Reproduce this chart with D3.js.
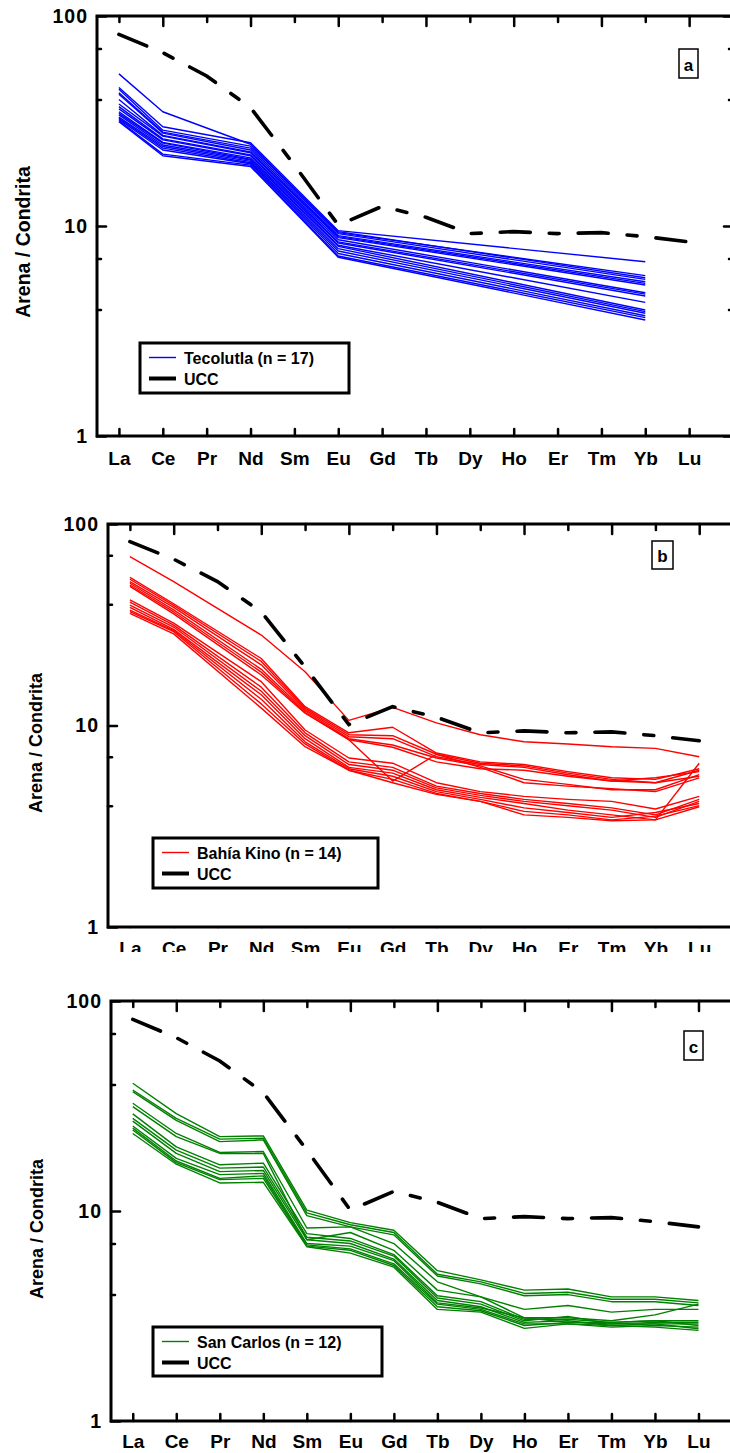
<!DOCTYPE html>
<html>
<head>
<meta charset="utf-8">
<script src="https://cdn.jsdelivr.net/npm/d3@7"></script>
<style>
  body { margin: 0; background: #fff; }
  svg { display: block; }
  text { font-family: "Liberation Sans", Arial, Helvetica, sans-serif; font-weight: bold; fill: #000; }
</style>
</head>
<body>
<svg id="fig" width="730" height="1453"></svg>
<script>
// Rare earth elements, in order along the x axis
const elements = ["La", "Ce", "Pr", "Nd", "Sm", "Eu", "Gd", "Tb", "Dy", "Ho", "Er", "Tm", "Yb", "Lu"];

// Upper continental crust, chondrite-normalised
const ucc = [81.7, 66.9, 51.8, 36.6, 19.5, 10.1, 12.4, 11.0, 9.2, 9.4, 9.2, 9.3, 8.9, 8.4];

// y axis ticks (log scale)
const yMajorTicks = [1, 10, 100];
const yMinorTicks = [4, 7, 40, 70];

// Tecolutla sands (n = 17): La, Ce, Nd, Eu and Yb measured
const tecolutla = [
  [53.0, 35.0, null, 24.5, null, 9.3, null, null, null, null, null, null, 5.80, null],
  [45.7, 29.7, null, 24.9, null, 9.5, null, null, null, null, null, null, 6.76, null],
  [44.8, 28.6, null, 24.0, null, 9.4, null, null, null, null, null, null, 5.67, null],
  [43.1, 28.0, null, 23.5, null, 9.2, null, null, null, null, null, null, 5.57, null],
  [42.4, 27.7, null, 23.0, null, 9.0, null, null, null, null, null, null, 5.43, null],
  [40.0, 27.0, null, 22.5, null, 8.9, null, null, null, null, null, null, 5.33, null],
  [38.1, 26.8, null, 22.3, null, 8.8, null, null, null, null, null, null, 5.24, null],
  [37.0, 26.0, null, 21.8, null, 8.6, null, null, null, null, null, null, 4.81, null],
  [36.1, 25.7, null, 21.6, null, 8.4, null, null, null, null, null, null, 4.74, null],
  [35.0, 25.0, null, 21.1, null, 8.3, null, null, null, null, null, null, 4.64, null],
  [34.4, 24.8, null, 20.8, null, 8.1, null, null, null, null, null, null, 4.33, null],
  [33.8, 24.3, null, 20.6, null, 8.0, null, null, null, null, null, null, 3.98, null],
  [33.0, 23.9, null, 20.3, null, 7.8, null, null, null, null, null, null, 3.91, null],
  [32.6, 23.5, null, 20.0, null, 7.6, null, null, null, null, null, null, 3.84, null],
  [32.2, 23.0, null, 19.8, null, 7.4, null, null, null, null, null, null, 3.74, null],
  [31.8, 22.0, null, 19.5, null, 7.2, null, null, null, null, null, null, 3.66, null],
  [31.4, 21.6, null, 19.2, null, 7.1, null, null, null, null, null, null, 3.57, null]
];

// Bahía Kino sands (n = 14): Pr not measured
const bahiaKino = [
  [68.8, 51.8, null, 28.1, 18.5, 10.6, 12.3, 10.3, 9.0, 8.3, 8.1, 7.85, 7.7, 7.0],
  [54.4, 40.2, null, 21.5, 12.4, 9.2, 9.8, 7.3, 6.6, 6.4, 5.9, 5.5, 5.4, 6.1],
  [53.2, 39.5, null, 20.8, 12.2, 9.0, 8.9, 7.2, 6.5, 6.3, 5.8, 5.4, 5.2, 6.0],
  [51.8, 38.6, null, 20.0, 12.0, 8.8, 8.6, 7.0, 6.4, 6.2, 5.7, 5.3, 5.5, 5.9],
  [50.8, 37.5, null, 19.0, 11.8, 8.6, 8.0, 6.9, 6.3, 5.4, 5.1, 4.8, 4.8, 5.7],
  [49.8, 36.6, null, 18.4, 11.6, 8.5, 5.3, 7.2, 6.2, 5.2, 5.0, 4.85, 4.7, 5.5],
  [49.0, 35.8, null, 17.8, 11.5, 8.5, 7.8, 6.6, 6.1, 6.0, 5.6, 5.3, 5.2, 5.6],
  [42.0, 32.2, null, 16.5, 9.5, 6.9, 6.5, 5.2, 4.7, 4.45, 4.3, 4.2, 3.85, 4.45],
  [40.9, 31.5, null, 15.5, 9.2, 6.6, 6.2, 5.0, 4.6, 4.3, 4.1, 3.9, 3.6, 4.3],
  [39.6, 30.8, null, 14.8, 8.9, 6.4, 6.0, 4.9, 4.5, 4.2, 4.0, 3.8, 3.5, 4.2],
  [38.6, 30.0, null, 14.2, 8.6, 6.2, 5.8, 4.8, 4.4, 4.1, 3.8, 3.6, 3.4, 6.5],
  [37.4, 29.6, null, 13.5, 8.3, 6.1, 5.6, 4.7, 4.3, 3.9, 3.7, 3.5, 3.7, 4.1],
  [36.7, 29.2, null, 12.8, 8.1, 6.0, 5.4, 4.6, 4.2, 3.75, 3.6, 3.4, 3.55, 4.0],
  [36.0, 28.5, null, 12.2, 7.85, 6.0, 5.2, 4.55, 4.2, 3.6, 3.5, 3.37, 3.4, 3.95]
];

// San Carlos sands (n = 12): full REE pattern
const sanCarlos = [
  [40.6, 29.1, 22.6, 22.8, 10.1, 8.8, 8.1, 5.2, 4.7, 4.2, 4.25, 3.9, 3.9, 3.75],
  [37.7, 27.6, 22.0, 22.2, 9.8, 8.6, 7.9, 5.0, 4.6, 4.05, 4.1, 3.8, 3.8, 3.65],
  [37.0, 27.0, 21.4, 21.8, 9.5, 8.4, 7.7, 4.9, 4.5, 3.95, 4.0, 3.7, 3.7, 3.55],
  [32.6, 23.4, 19.0, 19.2, 8.3, 8.4, 7.0, 4.6, 3.9, 3.4, 3.55, 3.3, 3.4, 3.4],
  [31.4, 22.6, 18.8, 18.8, 7.3, 7.9, 6.5, 4.2, 3.9, 3.1, 3.1, 3.0, 3.2, 3.6],
  [29.0, 20.2, 16.6, 16.9, 7.8, 7.4, 6.2, 3.95, 3.7, 3.05, 3.05, 2.95, 3.0, 3.0],
  [27.6, 19.5, 16.0, 16.2, 7.5, 7.2, 6.1, 3.85, 3.6, 3.0, 3.15, 2.9, 2.95, 2.95],
  [26.8, 18.8, 15.4, 15.6, 7.3, 7.0, 5.9, 3.75, 3.5, 2.95, 3.0, 2.85, 2.9, 2.9],
  [25.4, 17.8, 14.9, 15.1, 7.0, 6.8, 5.8, 3.65, 3.45, 3.1, 2.95, 2.95, 3.0, 2.85],
  [24.8, 17.3, 14.3, 14.7, 6.9, 6.6, 5.6, 3.6, 3.4, 2.9, 2.9, 2.8, 2.85, 2.8],
  [24.3, 17.0, 14.1, 14.3, 6.8, 6.5, 5.5, 3.5, 3.35, 2.85, 2.95, 2.9, 2.9, 2.75],
  [23.4, 16.7, 13.6, 13.7, 6.76, 6.3, 5.4, 3.4, 3.3, 2.76, 2.9, 2.85, 2.8, 2.7]
];

// Panel layout
const panels = [
  { tag: "a", name: "Tecolutla (n = 17)", color: "#0000ff", data: tecolutla,
    left: 97, right: 733, top: 16, bottom: 436, labelPad: 15.5, clipLabels: false,
    titleX: 30, titleY: 242, titleSize: 19.5,
    legend: { x: 140, y: 343, w: 209, h: 50 },
    tagBox: { x: 679, y: 49, w: 19, h: 29 } },
  { tag: "b", name: "Bahía Kino (n = 14)", color: "#ff0000", data: bahiaKino,
    left: 108, right: 743, top: 524, bottom: 927, labelPad: 14.5, clipLabels: true,
    titleX: 42, titleY: 743, titleSize: 18,
    legend: { x: 153, y: 838, w: 225, h: 50 },
    tagBox: { x: 652, y: 541, w: 21, h: 28 } },
  { tag: "c", name: "San Carlos (n = 12)", color: "#008000", data: sanCarlos,
    left: 111, right: 742, top: 1001, bottom: 1421, labelPad: 13.5, clipLabels: false,
    titleX: 43, titleY: 1229, titleSize: 18,
    legend: { x: 153, y: 1327, w: 229, h: 49 },
    tagBox: { x: 684, y: 1031, w: 19, h: 29 } }
];

const svg = d3.select("#fig");
const defs = svg.append("defs");
const idx = d3.range(1, elements.length + 1);

function styleAxis(sel, fontSize) {
  sel.select(".domain").remove();
  sel.selectAll(".tick line").attr("stroke", "#000").attr("stroke-width", 2.5).attr("stroke-linecap", "round");
  sel.selectAll(".tick text").attr("font-size", fontSize).attr("font-family", null).attr("fill", "#000");
  sel.attr("font-family", null).attr("font-size", null);
}

panels.forEach(p => {
  const x = d3.scaleLinear().domain([0.5, 15]).range([p.left, p.right]);
  const y = d3.scaleLog().domain([1, 100]).range([p.bottom, p.top]);
  const g = svg.append("g");

  const line = d3.line().x(d => x(d.i + 1)).y(d => y(d.v));
  const pts = row => row.map((v, i) => ({ i, v })).filter(d => d.v != null);

  // sample patterns
  g.append("g").selectAll("path").data(p.data).join("path")
    .attr("d", r => line(pts(r)))
    .attr("fill", "none")
    .attr("stroke", p.color)
    .attr("stroke-width", 1.4)
    .attr("stroke-linejoin", "round");

  // UCC reference pattern
  g.append("path")
    .attr("d", line(pts(ucc)))
    .attr("fill", "none")
    .attr("stroke", "#000")
    .attr("stroke-width", 3.6)
    .attr("stroke-linecap", "round")
    .attr("stroke-dasharray", "30,19,10,19");

  // bottom axis with element labels
  const bottom = g.append("g").attr("transform", `translate(0,${p.bottom})`)
    .call(d3.axisBottom(x).tickValues(idx).tickSize(-7).tickSizeOuter(0)
      .tickPadding(p.labelPad).tickFormat(i => elements[i - 1]));
  styleAxis(bottom, 19);
  if (p.clipLabels) {
    const cid = "clip-labels-" + p.tag;
    defs.append("clipPath").attr("id", cid).append("rect")
      .attr("x", 0).attr("y", 0).attr("width", 730).attr("height", 25);
    bottom.attr("clip-path", `url(#${cid})`);
  }

  // top axis: alternating long/short ticks
  const topLong = g.append("g").attr("transform", `translate(0,${p.top})`)
    .call(d3.axisTop(x).tickValues(idx.filter(i => i % 2 === 0)).tickSize(-10).tickSizeOuter(0).tickFormat(""));
  styleAxis(topLong, 0);
  const topShort = g.append("g").attr("transform", `translate(0,${p.top})`)
    .call(d3.axisTop(x).tickValues(idx.filter(i => i % 2 === 1)).tickSize(-6).tickSizeOuter(0).tickFormat(""));
  styleAxis(topShort, 0);

  // left axis
  const leftMajor = g.append("g").attr("transform", `translate(${p.left},0)`)
    .call(d3.axisLeft(y).tickValues(yMajorTicks).tickSize(-9).tickSizeOuter(0)
      .tickPadding(9).tickFormat(d3.format("d")));
  styleAxis(leftMajor, 19.5);
  leftMajor.selectAll(".tick text").attr("letter-spacing", "1px");
  const leftMinor = g.append("g").attr("transform", `translate(${p.left},0)`)
    .call(d3.axisLeft(y).tickValues(yMinorTicks).tickSize(-4).tickSizeOuter(0).tickFormat(""));
  styleAxis(leftMinor, 0);

  // right axis
  const rightMajor = g.append("g").attr("transform", `translate(${p.right},0)`)
    .call(d3.axisRight(y).tickValues(yMajorTicks).tickSize(-9).tickSizeOuter(0).tickFormat(""));
  styleAxis(rightMajor, 0);
  const rightMinor = g.append("g").attr("transform", `translate(${p.right},0)`)
    .call(d3.axisRight(y).tickValues(yMinorTicks).tickSize(-4).tickSizeOuter(0).tickFormat(""));
  styleAxis(rightMinor, 0);

  // frame
  g.append("rect")
    .attr("x", p.left).attr("y", p.top)
    .attr("width", p.right - p.left).attr("height", p.bottom - p.top)
    .attr("fill", "none").attr("stroke", "#000").attr("stroke-width", 3);

  // y axis title
  g.append("text")
    .attr("transform", `translate(${p.titleX},${p.titleY}) rotate(-90)`)
    .attr("text-anchor", "middle")
    .attr("font-size", p.titleSize)
    .text("Arena / Condrita");

  // legend
  const L = p.legend;
  const lg = g.append("g").attr("transform", `translate(${L.x},${L.y})`);
  lg.append("rect").attr("width", L.w).attr("height", L.h)
    .attr("fill", "#fff").attr("stroke", "#000").attr("stroke-width", 3);
  const rows = [
    { label: p.name, color: p.color, width: 1.4, ly: 14.5, ty: 21 },
    { label: "UCC", color: "#000", width: 4, ly: 35.5, ty: 42 }
  ];
  rows.forEach(r => {
    lg.append("line").attr("x1", 9).attr("x2", 36).attr("y1", r.ly).attr("y2", r.ly)
      .attr("stroke", r.color).attr("stroke-width", r.width);
    lg.append("text").attr("x", 44).attr("y", r.ty).attr("font-size", 16).text(r.label);
  });

  // panel tag
  const T = p.tagBox;
  g.append("rect").attr("x", T.x).attr("y", T.y).attr("width", T.w).attr("height", T.h)
    .attr("fill", "#fff").attr("stroke", "#000").attr("stroke-width", 1.5);
  g.append("text").attr("x", T.x + T.w / 2).attr("y", T.y + T.h - 7)
    .attr("text-anchor", "middle").attr("font-size", 17).text(p.tag);
});
</script>
</body>
</html>
